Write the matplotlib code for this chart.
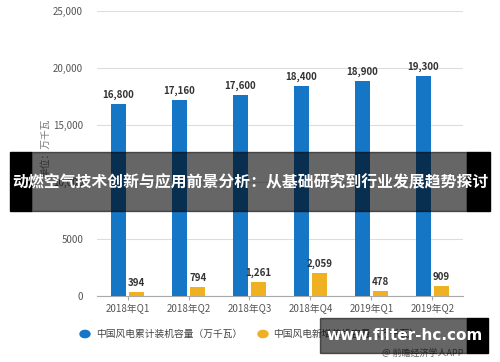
import numpy as np
import matplotlib.pyplot as plt
from matplotlib.patches import Rectangle, Circle

plt.rcParams['font.family'] = ['Noto Sans CJK SC', 'DejaVu Sans']

# 数据
quarters = ['2018年Q1', '2018年Q2', '2018年Q3', '2018年Q4', '2019年Q1', '2019年Q2']
total_cap = [16800, 17160, 17600, 18400, 18900, 19300]
new_cap = [394, 794, 1261, 2059, 478, 909]
yticks = [0, 5000, 10000, 15000, 20000, 25000]
ytick_labels = ['0', '5000', '10,000', '15,000', '20,000', '25,000']
legend_names = ['中国风电累计装机容量（万千瓦）', '中国风电新增装机容量（万千瓦）']
title = '动燃空气技术创新与应用前景分析：从基础研究到行业发展趋势探讨'

c_blue = '#1676c6'
c_orange = '#efb021'

W, H = 500, 362
fig = plt.figure(figsize=(5, 3.62), dpi=100)
ax = fig.add_axes([97 / W, 1 - 296 / H, 366 / W, 285 / H])

x = np.arange(len(quarters))
bw = 0.245
ax.bar(x - 0.155, total_cap, bw, color=c_blue, zorder=3)
ax.bar(x + 0.15, new_cap, bw, color=c_orange, zorder=3)

for i in range(len(x)):
    ax.text(x[i] - 0.155, total_cap[i] + 350, f'{total_cap[i]:,}', ha='center', va='bottom',
            fontsize=7, fontweight='bold', color='#333333')
    ax.text(x[i] + 0.15, new_cap[i] + 350, f'{new_cap[i]:,}', ha='center', va='bottom',
            fontsize=7, fontweight='bold', color='#333333')

ax.set_xlim(-0.5, len(x) - 0.5)
ax.set_ylim(0, 25000)
ax.set_yticks(yticks)
ax.set_yticklabels(ytick_labels)
ax.set_xticks(x)
ax.set_xticklabels(quarters)
ax.tick_params(axis='y', length=0, labelsize=7, labelcolor='#555555', pad=10)
ax.tick_params(axis='x', length=3, color='#aaaaaa', labelsize=7, labelcolor='#555555', pad=3)
ax.grid(axis='y', color='#dddddd', linewidth=0.8, zorder=0)
for s in ['top', 'right', 'left']:
    ax.spines[s].set_visible(False)
ax.spines['bottom'].set_color('#aaaaaa')

fig.text(45 / W, 1 - 148 / H, '单位：万千瓦', rotation=90, ha='center', va='center',
         fontsize=7, color='#777777')

# 图例
fig.patches.append(Circle((85 / W, 1 - 334 / H), 0.01, transform=fig.transFigure,
                          color=c_blue, figure=fig))
fig.text(96 / W, 1 - 334 / H, legend_names[0], ha='left', va='center', fontsize=7, color='#444444')
fig.patches.append(Circle((263 / W, 1 - 334 / H), 0.01, transform=fig.transFigure,
                          color=c_orange, figure=fig))
fig.text(273 / W, 1 - 334 / H, legend_names[1], ha='left', va='center', fontsize=7, color='#444444')
fig.text(463 / W, 1 - 353 / H, '@ 前瞻经济学人APP', ha='right', va='center', fontsize=6.5, color='#666666')

# 标题横幅
fig.patches.append(Rectangle((31 / W, 1 - 211 / H), 436 / W, 59 / H, transform=fig.transFigure,
                             color='black', alpha=0.6, figure=fig, zorder=5))
fig.patches.append(Rectangle((10 / W, 1 - 211 / H), 21 / W, 59 / H, transform=fig.transFigure,
                             color='black', figure=fig, zorder=5))
fig.patches.append(Rectangle((467 / W, 1 - 211 / H), 23 / W, 59 / H, transform=fig.transFigure,
                             color='black', figure=fig, zorder=5))
fig.text(250 / W, 1 - 182 / H, title, ha='center', va='center', fontsize=11.4, fontweight='bold',
         color='white', zorder=6)

# 网址框
fig.patches.append(Rectangle((320 / W, 1 - 353 / H), 147 / W, 35 / H, transform=fig.transFigure,
                             color='black', alpha=0.6, figure=fig, zorder=5))
fig.patches.append(Rectangle((467 / W, 1 - 353 / H), 21 / W, 35 / H, transform=fig.transFigure,
                             color='black', figure=fig, zorder=5))
fig.text(405 / W, 1 - 335 / H, 'www.filter-hc.com', ha='center', va='center', fontsize=11,
         fontweight='bold', color='white', family='DejaVu Sans', zorder=6)

fig.savefig('out.png', dpi=100)
